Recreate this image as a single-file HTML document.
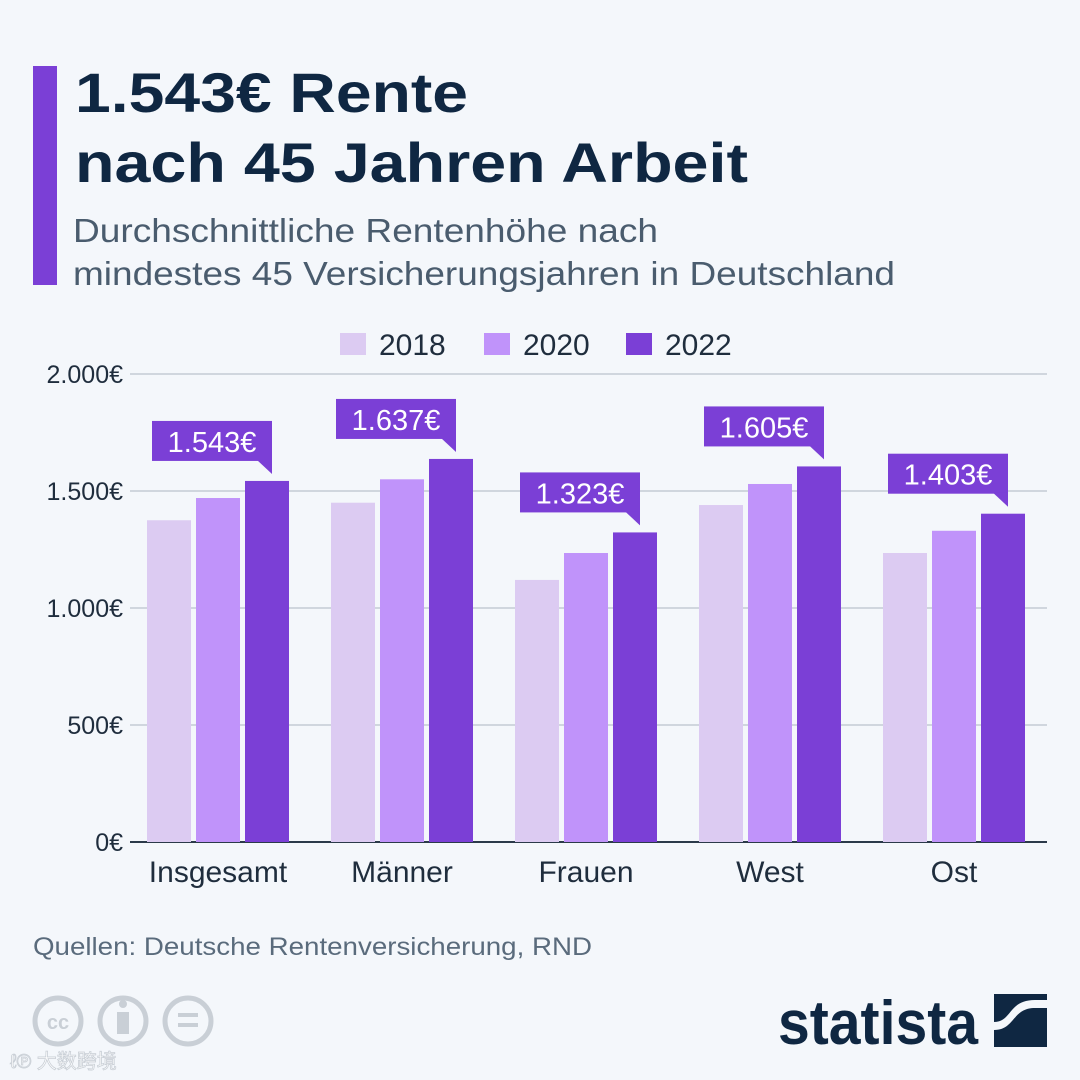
<!DOCTYPE html>
<html><head><meta charset="utf-8"><style>
html,body{margin:0;padding:0;background:#f4f7fb;}
svg{display:block;font-family:"Liberation Sans",sans-serif;}
</style></head><body>
<svg id="chart" width="1080" height="1080" viewBox="0 0 1080 1080">
<rect width="1080" height="1080" fill="#f4f7fb"/>
<rect x="33" y="66" width="24" height="219" fill="#7b3fd6"/>
<text x="75" y="112" font-size="56" font-weight="bold" fill="#0f2742" textLength="393" lengthAdjust="spacingAndGlyphs">1.543€ Rente</text>
<text x="75" y="182" font-size="56" font-weight="bold" fill="#0f2742" textLength="673" lengthAdjust="spacingAndGlyphs">nach 45 Jahren Arbeit</text>
<text x="73" y="242" font-size="33" fill="#4a5c6e" textLength="585" lengthAdjust="spacingAndGlyphs">Durchschnittliche Rentenhöhe nach</text>
<text x="73" y="285" font-size="33" fill="#4a5c6e" textLength="822" lengthAdjust="spacingAndGlyphs">mindestes 45 Versicherungsjahren in Deutschland</text>
<g id="legend"></g>
<g id="grid"></g>
<g id="bars"></g>
<g id="labels"></g>
<text x="33" y="955" font-size="25" fill="#5a6b7c" textLength="559" lengthAdjust="spacingAndGlyphs">Quellen: Deutsche Rentenversicherung, RND</text>
<g fill="none" stroke="#c9cfd6" stroke-width="5">
<circle cx="58" cy="1021" r="23"/><circle cx="123" cy="1021" r="23"/><circle cx="188" cy="1021" r="23"/>
<text x="58" y="1029" font-size="20" font-weight="bold" fill="#c9cfd6" stroke="none" text-anchor="middle">cc</text>
<rect x="117" y="1012" width="12" height="22" fill="#c9cfd6" stroke="none"/><circle cx="123" cy="1004" r="4" fill="#c9cfd6" stroke="none"/>
<rect x="178" y="1013" width="20" height="4" fill="#c9cfd6" stroke="none"/><rect x="178" y="1023" width="20" height="4" fill="#c9cfd6" stroke="none"/>
</g>
<text x="10" y="1068" font-size="20" fill="#ffffff" stroke="#c9cfd6" stroke-width="0.8" font-family="'Liberation Sans','Noto Sans CJK SC',sans-serif">ℓ℗ 大数跨境</text>
<text x="778" y="1044" font-size="62" font-weight="bold" fill="#0f2742" textLength="200" lengthAdjust="spacingAndGlyphs">statista</text>
<g>
<rect x="994" y="994" width="53" height="53" fill="#0f2742"/>
<path d="M994 1030 C1015 1030 1012 1008 1035 1008 L1047 1008 L1047 1000 L1035 1000 C1008 1000 1012 1022 994 1022 Z" fill="#f4f7fb"/>
</g>
</svg>
<script>
const categories = ["Insgesamt","Männer","Frauen","West","Ost"];
const seriesNames = ["2018","2020","2022"];
const values2018 = [1375,1450,1120,1440,1235];
const values2020 = [1470,1550,1235,1530,1330];
const values2022 = [1543,1637,1323,1605,1403];
const labels2022 = ["1.543€","1.637€","1.323€","1.605€","1.403€"];
const yTicks = [0,500,1000,1500,2000];
const yTickLabels = ["0€","500€","1.000€","1.500€","2.000€"];

const NS="http://www.w3.org/2000/svg";
const colors=["#dccbf2","#c093fa","#7b3fd6"];
const y0=842, yTop=374, vmax=2000;
const y=v=>y0-(v/vmax)*(y0-yTop);
const groupStart=147, groupStep=184, barW=44, barGap=5;
const x=(ci,si)=>groupStart+ci*groupStep+si*(barW+barGap);
function mk(tag,attrs,parent,text){const e=document.createElementNS(NS,tag);for(const k in attrs)e.setAttribute(k,attrs[k]);if(text!=null)e.textContent=text;parent.appendChild(e);return e;}
const grid=document.getElementById('grid');
yTicks.forEach((t,i)=>{
 const l=mk('line',{x1:130,x2:1047,y1:y(t),y2:y(t),stroke:t===0?'#2b3a4a':'#c3cbd4','stroke-width':t===0?2:1.5},grid);
 
 
 const tx=mk('text',{x:123,y:y(t)+9,'font-size':25,fill:'#1f2d3d','text-anchor':'end'},grid,yTickLabels[i]);
 
 
});
const bars=document.getElementById('bars');
const series=[values2018,values2020,values2022];
categories.forEach((c,ci)=>{
 series.forEach((vals,si)=>{
  const r=mk('rect',{x:x(ci,si),y:y(vals[ci]),width:barW,height:y0-y(vals[ci]),fill:colors[si]},bars);
  
  
 });
 const t=mk('text',{x:x(ci,1)+barW/2,y:882,'font-size':30,fill:'#1f2d3d','text-anchor':'middle'},bars,c);
 
 
});
const lab=document.getElementById('labels');
categories.forEach((c,ci)=>{
 const top=y(values2022[ci]);
 const right=x(ci,2)+barW-17;
 const g=mk('g',{},lab);
 
 
 mk('rect',{x:right-120,y:top-60,width:120,height:40,fill:'#7b3fd6'},g);
 mk('path',{d:`M${right-15} ${top-21} L${right} ${top-21} L${right} ${top-7} Z`,fill:'#7b3fd6'},g);
 mk('text',{x:right-60,y:top-29,'font-size':29,fill:'#ffffff','text-anchor':'middle'},g,labels2022[ci]);
});
const leg=document.getElementById('legend');
const legX=[340,484,626];
seriesNames.forEach((n,i)=>{
 const g=mk('g',{},leg);
 
 
 mk('rect',{x:legX[i],y:333,width:26,height:22,fill:colors[i]},g);
 mk('text',{x:legX[i]+39,y:355,'font-size':30,fill:'#1f2d3d'},g,n);
});
</script>
</body></html>
